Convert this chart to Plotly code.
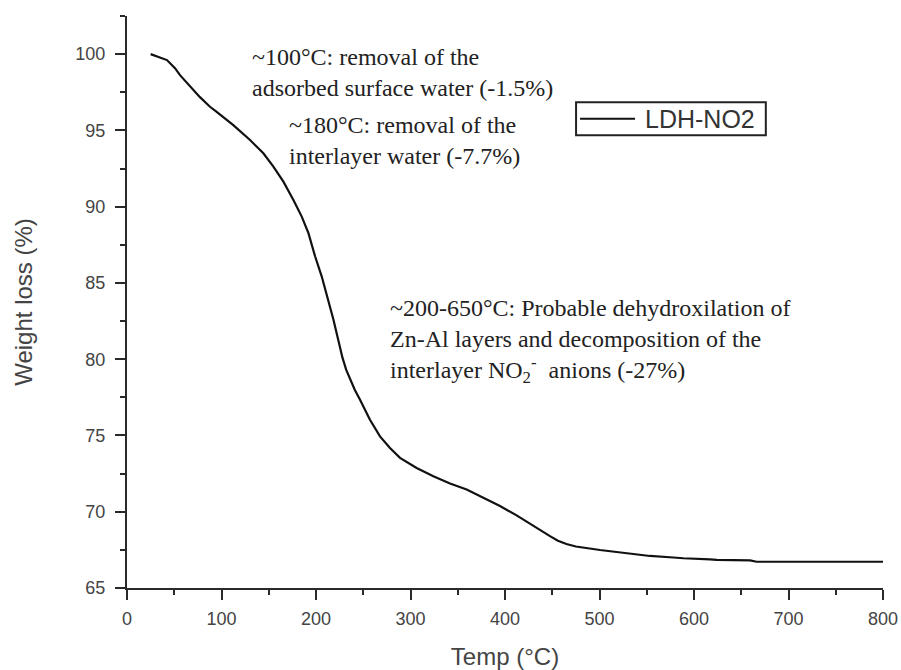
import plotly.graph_objects as go

# TGA curve of LDH-NO2: temperature (°C) vs. remaining weight (%)
temp = [25, 42.3, 50.8, 56.1, 77.2, 87.8, 94.9, 112.5, 130.2, 144.3, 154.9,
        165.5, 176.1, 184.9, 192.0, 199.1, 206.1, 213.1, 218.4, 224.0, 228.0,
        232.0, 236.0, 241.0, 246.6, 257.1, 267.7, 278.3, 288.9, 306.5, 324.2,
        341.8, 359.4, 377.0, 394.7, 412.3, 429.9, 447.6, 456.0, 465.0, 475.0,
        490.0, 500.5, 518.1, 535.8, 553.4, 578.1, 588.7, 617.0, 624.0, 659.3,
        666.3, 800.0]
weight = [100.0, 99.61, 99.08, 98.62, 97.18, 96.55, 96.22, 95.35, 94.37, 93.5,
          92.62, 91.64, 90.44, 89.35, 88.26, 86.73, 85.42, 83.89, 82.6, 81.15,
          80.1, 79.3, 78.7, 78.0, 77.34, 76.03, 74.94, 74.18, 73.53, 72.87,
          72.33, 71.85, 71.46, 70.91, 70.37, 69.76, 69.06, 68.4, 68.1, 67.88,
          67.72, 67.57, 67.49, 67.36, 67.21, 67.1, 67.0, 66.95, 66.88, 66.84,
          66.81, 66.72, 66.72]

series_name = "LDH-NO2"
x_title = "Temp (°C)"
y_title = "Weight loss (%)"

notes = [
    (130, 98.8, "~100°C: removal of the<br>adsorbed surface water (-1.5%)"),
    (169, 94.35, "~180°C: removal of the<br>interlayer water (-7.7%)"),
    (276, 81.2, "~200-650°C: Probable dehydroxilation of<br>"
                "Zn-Al layers and decomposition of the<br>"
                "interlayer NO<sub>2</sub><sup>-</sup>  anions (-27%)"),
]

axis_col = "#2a2a2a"
sans = "Liberation Sans, Arial, sans-serif"
tick_font = dict(family=sans, size=18, color="#444444")
title_font = dict(family=sans, size=24, color="#444444")
serif = dict(family="Liberation Serif, Times New Roman, serif", size=24, color="#222222")

fig = go.Figure()
fig.add_trace(go.Scatter(x=temp, y=weight, mode="lines", name=series_name,
                         line=dict(color="#111111", width=2.2), showlegend=False))

common = dict(showline=True, linecolor=axis_col, linewidth=2, ticks="outside",
              ticklen=10, tickwidth=2, tickcolor=axis_col, showgrid=False,
              zeroline=False, tickfont=tick_font, mirror=False, automargin=False)

fig.update_xaxes(range=[0, 800], tick0=0, dtick=100,
                 minor=dict(ticks="outside", ticklen=5, tickwidth=2,
                            tickcolor=axis_col, dtick=50, showgrid=False),
                 title=dict(text=x_title, font=title_font, standoff=22),
                 ticklabelstandoff=3, **common)
fig.update_yaxes(range=[65, 102.5], tick0=65, dtick=5,
                 minor=dict(ticks="outside", ticklen=5, tickwidth=2,
                            tickcolor=axis_col, dtick=2.5, showgrid=False),
                 title=dict(text=y_title, font=title_font, standoff=36),
                 ticklabelstandoff=6, **common)

for x, y, txt in notes:
    fig.add_annotation(x=x, y=y, xref="x", yref="y", text=txt, showarrow=False,
                       xanchor="left", yanchor="middle", align="left", font=serif)

# boxed legend entry
lx0, lx1, ly0, ly1 = 0.594, 0.845, 0.7915, 0.8492
ly = (ly0 + ly1) / 2
fig.add_shape(type="rect", xref="paper", yref="paper", x0=lx0, x1=lx1, y0=ly0, y1=ly1,
              line=dict(color="#222222", width=2), fillcolor="white", layer="above")
fig.add_shape(type="line", xref="paper", yref="paper", x0=lx0 + 0.0053, x1=lx0 + 0.078,
              y0=ly, y1=ly, line=dict(color="#111111", width=2))
fig.add_annotation(x=lx0 + 0.088, y=ly, xref="paper", yref="paper", text=series_name,
                   showarrow=False, xanchor="left", yanchor="middle",
                   font=dict(family=sans, size=25, color="#333333"))

fig.update_layout(width=901, height=670, margin=dict(l=127, r=18, t=16, b=82),
                  plot_bgcolor="white", paper_bgcolor="white")

fig.write_html("out.html")
